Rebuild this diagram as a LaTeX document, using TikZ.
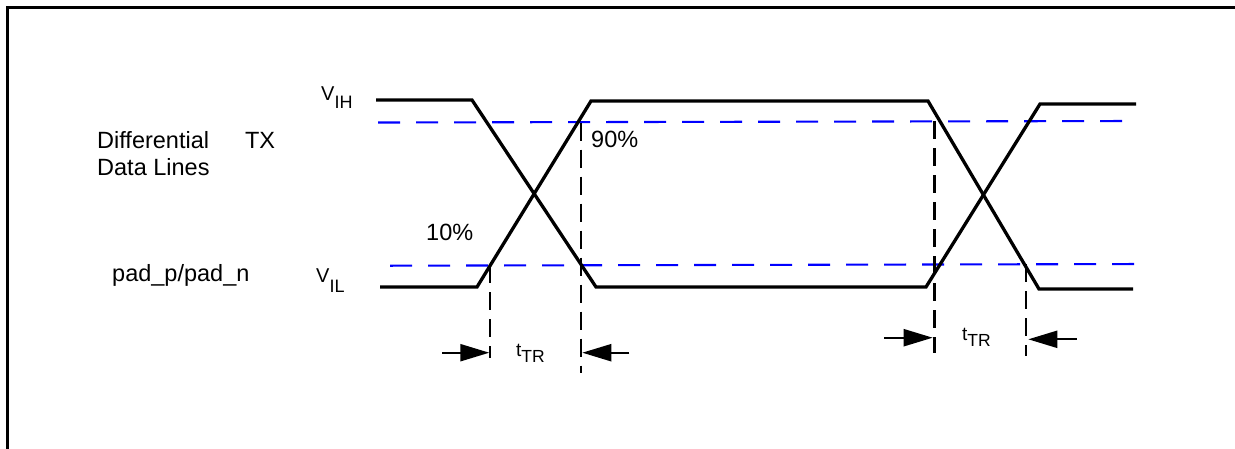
\documentclass[tikz,border=0pt]{standalone}
\usepackage{fontspec}
\setmainfont{Liberation Sans}
\usetikzlibrary{arrows.meta}
\begin{document}
\begin{tikzpicture}[x=1pt,y=-1pt,
  wave/.style={line width=3.3pt, line join=miter},
  thresh/.style={blue, line width=2.1pt, dash pattern=on 22pt off 16pt},
  marker/.style={black, line width=2.2pt, dash pattern=on 18pt off 9pt},
  dimarrow/.style={line width=2.2pt, -{Triangle[length=29pt,width=17pt]}},
  lbl/.style={inner sep=0pt, anchor=base west, font=\fontsize{23.5}{26.7}\selectfont},
  sig/.style={inner sep=0pt, anchor=base west, font=\fontsize{20}{20}\selectfont},
  tlbl/.style={inner sep=0pt, anchor=base west, font=\fontsize{19}{20}\selectfont},
]
\useasboundingbox (0,0) rectangle (1235,448);
\fill[white] (0,0) rectangle (1235,448);
% frame (only top and left edges fall inside the picture)
\begin{scope}
\clip (0,0) rectangle (1235,448);
\draw[line width=3pt] (7.5,7.5) rectangle (1260,470);
\end{scope}

% waveform coordinates
\coordinate (a0) at (376,100);
\coordinate (a1) at (472,100);
\coordinate (a2) at (596,287);
\coordinate (a3) at (926,287);
\coordinate (a4) at (1040,104);
\coordinate (a5) at (1136,104);
\coordinate (b0) at (380,287);
\coordinate (b1) at (477,287);
\coordinate (b2) at (591,101);
\coordinate (b3) at (928,101);
\coordinate (b4) at (1039,289);
\coordinate (b5) at (1133,289);

% threshold lines
\coordinate (h0) at (378,122.5);
\coordinate (h1) at (1136,121);
\coordinate (l0) at (390,265.7);
\coordinate (l1) at (1148,264);
\draw[thresh] (h0) -- (h1);
\draw[thresh] (l0) -- (l1);

% waveforms
\draw[wave] (a0) -- (a1) -- (a2) -- (a3) -- (a4) -- (a5);
\draw[wave] (b0) -- (b1) -- (b2) -- (b3) -- (b4) -- (b5);

% vertical timing markers
\coordinate (v1t) at (490,265);   \coordinate (v1b) at (490,358);
\coordinate (v2t) at (581,122.5); \coordinate (v2b) at (581,373);
\coordinate (v3t) at (934.5,121); \coordinate (v3b) at (934.5,353);
\coordinate (v4t) at (1026,264);  \coordinate (v4b) at (1026,356);
\draw[marker] (v1t) -- (v1b);
\draw[marker] (v2t) -- (v2b);
\draw[marker] (v3t) -- (v3b);
\draw[marker] (v4t) -- (v4b);

% dimension arrows
\coordinate (p1) at (442,352.7);   \coordinate (q1) at (489.3,352.7);
\coordinate (p2) at (629.3,352.7); \coordinate (q2) at (582.3,352.7);
\coordinate (p3) at (884,337.7);   \coordinate (q3) at (932.7,337.7);
\coordinate (p4) at (1076.7,339.3);\coordinate (q4) at (1028.3,339.3);
\draw[dimarrow] (p1) -- (q1);
\draw[dimarrow] (p2) -- (q2);
\draw[dimarrow] (p3) -- (q3);
\draw[dimarrow] (p4) -- (q4);

% labels
\node[lbl] (diff) at (97,148.3) {Differential\hspace{36pt}TX};
\node[lbl] (data) at (97,175) {Data Lines};
\node[lbl] (pad) at (112,281.7) {pad\_p/pad\_n};
\node[sig] (vih) at (321,100.7) {V\raisebox{-7.6pt}{\fontsize{18}{18}\selectfont IH}};
\node[sig] (vil) at (316,282) {V\raisebox{-10pt}{\fontsize{18}{18}\selectfont IL}};
\node[lbl] (p10) at (426,240) {10\%};
\node[lbl] (p90) at (591,147.3) {90\%};
\node[tlbl] (t1) at (516,356.7) {t\raisebox{-6pt}{\fontsize{17.5}{17}\selectfont TR}};
\node[tlbl] (t2) at (962,340) {t\raisebox{-6pt}{\fontsize{17.5}{17}\selectfont TR}};
\end{tikzpicture}
\end{document}
